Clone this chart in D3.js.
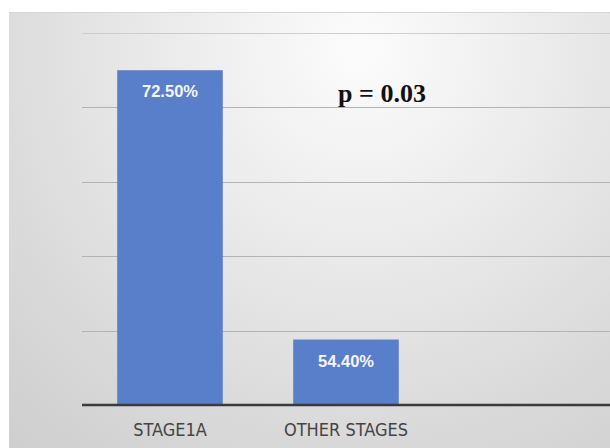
<!DOCTYPE html>
<html>
<head>
<meta charset="utf-8">
<script src="https://cdn.jsdelivr.net/npm/d3@7"></script>
<style>
  html, body { margin: 0; padding: 0; background: #ffffff; }
  svg { display: block; }
</style>
</head>
<body>
<svg id="chart" width="610" height="448"></svg>
<script>
// Survival rate by tumour stage
const categories = ["STAGE1A", "OTHER STAGES"];
const values = [72.5, 54.4];
const valueLabels = ["72.50%", "54.40%"];
const yTicks = [50, 55, 60, 65, 70, 75];
const annotation = "p = 0.03";

const svg = d3.select("#chart");
const W = 610, H = 448;

// Panel background with soft radial shading
const defs = svg.append("defs");
const grad = defs.append("radialGradient")
  .attr("id", "panelGrad")
  .attr("gradientUnits", "userSpaceOnUse")
  .attr("cx", 360).attr("cy", 50).attr("r", 520);
grad.append("stop").attr("offset", "0%").attr("stop-color", "#fcfcfc");
grad.append("stop").attr("offset", "35%").attr("stop-color", "#ececec");
grad.append("stop").attr("offset", "75%").attr("stop-color", "#d9d9d9");
grad.append("stop").attr("offset", "100%").attr("stop-color", "#cfcfcf");

svg.append("rect")
  .attr("x", 9).attr("y", 12)
  .attr("width", W - 9).attr("height", H - 12)
  .attr("fill", "url(#panelGrad)");
svg.append("line")
  .attr("x1", 9).attr("x2", W).attr("y1", 12.5).attr("y2", 12.5)
  .attr("stroke", "#d6d6d6").attr("stroke-width", 1);

const plot = { left: 82, right: W, top: 33, bottom: 405 };

const y = d3.scaleLinear()
  .domain([yTicks[0], yTicks[yTicks.length - 1]])
  .range([plot.bottom, plot.top]);

const x = d3.scaleBand()
  .domain(categories)
  .range([plot.left, plot.left + 2 * 176])
  .paddingInner(0.4)
  .paddingOuter(0.2);

// Horizontal gridlines
svg.append("g")
  .selectAll("line")
  .data(yTicks.slice(1))
  .join("line")
  .attr("x1", plot.left).attr("x2", plot.right)
  .attr("y1", d => Math.round(y(d)) + 0.5)
  .attr("y2", d => Math.round(y(d)) + 0.5)
  .attr("stroke", d => d === yTicks[yTicks.length - 1] ? "#cdcdcd" : "#b3b3b3")
  .attr("stroke-width", 1);

// Bars
svg.append("g")
  .selectAll("rect")
  .data(categories)
  .join("rect")
  .attr("x", d => x(d))
  .attr("width", x.bandwidth())
  .attr("y", (d, i) => y(values[i]))
  .attr("height", (d, i) => y(yTicks[0]) - y(values[i]))
  .attr("fill", "#5a7fca");

// Value labels inside bar tops
svg.append("g")
  .selectAll("text")
  .data(categories)
  .join("text")
  .attr("x", d => x(d) + x.bandwidth() / 2)
  .attr("y", (d, i) => y(values[i]) + 27)
  .attr("text-anchor", "middle")
  .attr("font-family", "'Liberation Sans', Arial, sans-serif")
  .attr("font-weight", "bold")
  .attr("font-size", "16.5px")
  .attr("fill", "#f5f5f5")
  .text((d, i) => valueLabels[i]);

// Baseline axis with category labels
const xAxis = d3.axisBottom(x).tickSize(0).tickPadding(18);
const axisG = svg.append("g")
  .attr("transform", `translate(0,${plot.bottom})`)
  .call(xAxis);
axisG.select(".domain").remove();
axisG.selectAll("text")
  .attr("font-family", "'DejaVu Sans Condensed', 'Liberation Sans Narrow', sans-serif")
  .attr("font-size", "18px")
  .attr("fill", "#444");
svg.append("line")
  .attr("x1", plot.left).attr("x2", plot.right)
  .attr("y1", plot.bottom).attr("y2", plot.bottom)
  .attr("stroke", "#3a3a3a")
  .attr("stroke-width", 2.5);

// Significance annotation
svg.append("text")
  .attr("x", 382)
  .attr("y", 102)
  .attr("text-anchor", "middle")
  .attr("font-family", "'Liberation Serif', 'Times New Roman', serif")
  .attr("font-weight", "bold")
  .attr("font-size", "26px")
  .attr("fill", "#111")
  .text(annotation);
</script>
</body>
</html>
